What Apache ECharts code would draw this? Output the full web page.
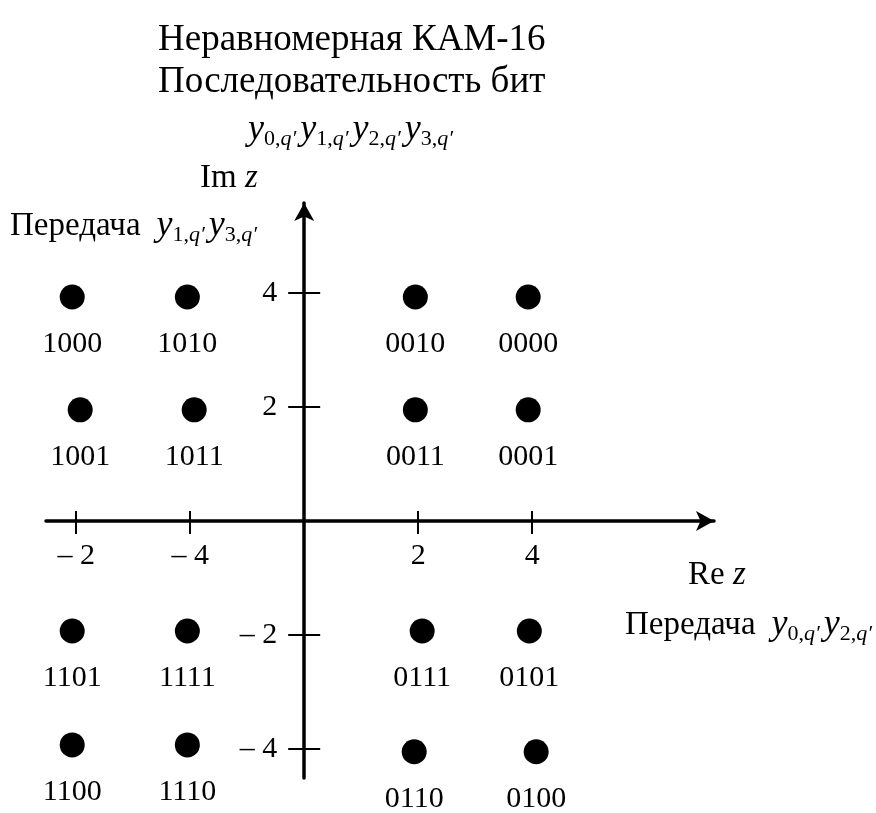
<!DOCTYPE html>
<html>
<head>
<meta charset="utf-8">
<script src="https://cdn.jsdelivr.net/npm/echarts@6/dist/echarts.min.js"></script>
<style>
  html, body { margin: 0; padding: 0; background: #ffffff; }
  #chart { width: 876px; height: 813px; }
</style>
</head>
<body>
<div id="chart"></div>
<script>
// Signal points of the non-uniform 16-QAM constellation
const bitWords = ['1000', '1010', '0010', '0000',
                  '1001', '1011', '0011', '0001',
                  '1101', '1111', '0111', '0101',
                  '1100', '1110', '0110', '0100'];
const reValues = [-4.07, -2.05, 1.95, 3.93,
                  -3.93, -1.93, 1.95, 3.93,
                  -4.07, -2.05, 2.07, 3.95,
                  -4.07, -2.05, 1.93, 4.07];
const imValues = [3.93, 3.93, 3.93, 3.93,
                  1.95, 1.95, 1.95, 1.95,
                  -1.93, -1.93, -1.93, -1.93,
                  -3.93, -3.93, -4.05, -4.05];

// Tick positions and the text written at them
const xTickValues = [-4, -2, 2, 4];
const xTickLabels = ['– 2', '– 4', '2', '4'];
const yTickValues = [-4, -2, 2, 4];
const yTickLabels = ['– 4', '– 2', '2', '4'];

// Visible extent of both axes
const reRange = [-4.53, 7.19];
const imRange = [-4.51, 5.58];

const SERIF = '"Liberation Serif", "Times New Roman", serif';

const points = bitWords.map((w, i) => ({ name: w, value: [reValues[i], imValues[i]] }));
const xTickMarks = xTickValues.map((v, i) => ({ name: xTickLabels[i], value: [v, 0] }));
const yTickMarks = yTickValues.map((v, i) => ({ name: yTickLabels[i], value: [0, v] }));

// rich-text pieces for y_{k,q'}
const subRich = {
  y:   { fontFamily: SERIF, fontSize: 36, fontStyle: 'italic', fill: '#000' },
  s:   { fontFamily: SERIF, fontSize: 22, padding: [18, 0, 0, 0], fill: '#000' },
  q:   { fontFamily: SERIF, fontSize: 22, fontStyle: 'italic', padding: [18, 0, 0, 0], fill: '#000' },
  t:   { fontFamily: SERIF, fontSize: 33, fill: '#000' },
  z:   { fontFamily: SERIF, fontSize: 33, fontStyle: 'italic', fill: '#000' },
  g:   { fontFamily: SERIF, fontSize: 20, width: 4 },
  gap: { fontFamily: SERIF, fontSize: 20, width: 16 }
};
function ySym(k) { return '{y|y}{s|' + k + ',}{q|q′}{g|}'; }

const axisBase = (dim) => ({
  type: 'value',
  min: dim === 'x' ? reRange[0] : imRange[0],
  max: dim === 'x' ? reRange[1] : imRange[1],
  splitLine: { show: false },
  axisLabel: { show: false }
});

const tickStyle = { color: '#000', width: 2 };

const chart = echarts.init(document.getElementById('chart'), null, { renderer: 'canvas' });

chart.setOption({
  backgroundColor: '#ffffff',
  animation: false,
  grid: { left: 46, right: 162, top: 203, bottom: 35, containLabel: false, outerBoundsMode: 'none' },
  xAxis: [
    Object.assign(axisBase('x'), {
      position: 'bottom',
      axisLine: {
        show: true, onZero: true,
        symbol: ['none', 'arrow'], symbolSize: [15, 18],
        lineStyle: { color: '#000', width: 3.5 }
      },
      axisTick: { show: true, inside: false, length: 13, customValues: xTickValues, lineStyle: tickStyle }
    }),
    Object.assign(axisBase('x'), {
      position: 'top',
      axisLine: { show: false, onZero: true },
      axisTick: { show: true, inside: false, length: 10, customValues: xTickValues, lineStyle: tickStyle }
    })
  ],
  yAxis: [
    Object.assign(axisBase('y'), {
      position: 'left',
      axisLine: {
        show: true, onZero: true,
        symbol: ['none', 'arrow'], symbolSize: [15, 18],
        lineStyle: { color: '#000', width: 3.5 }
      },
      axisTick: { show: true, inside: false, length: 16, customValues: yTickValues, lineStyle: tickStyle }
    }),
    Object.assign(axisBase('y'), {
      position: 'right',
      axisLine: { show: false, onZero: true },
      axisTick: { show: true, inside: false, length: 16, customValues: yTickValues, lineStyle: tickStyle }
    })
  ],
  series: [
    {
      // constellation points with their bit words
      type: 'scatter',
      symbol: 'circle',
      symbolSize: 25,
      itemStyle: { color: '#000', opacity: 1 },
      label: {
        show: true, position: 'bottom', distance: 20,
        formatter: '{b}',
        fontFamily: SERIF, fontSize: 30, color: '#000'
      },
      emphasis: { disabled: true },
      data: points
    },
    {
      // numbers under the Re axis ticks
      type: 'scatter',
      symbol: 'circle',
      symbolSize: 2,
      itemStyle: { color: 'rgba(0,0,0,0)', opacity: 1 },
      label: {
        show: true, position: 'bottom', distance: 19,
        formatter: '{b}',
        fontFamily: SERIF, fontSize: 30, color: '#000'
      },
      emphasis: { disabled: true },
      silent: true,
      data: xTickMarks
    },
    {
      // numbers beside the Im axis ticks
      type: 'scatter',
      symbol: 'circle',
      symbolSize: 2,
      itemStyle: { color: 'rgba(0,0,0,0)', opacity: 1 },
      label: {
        show: true, position: 'left', distance: 26,
        formatter: '{b}',
        fontFamily: SERIF, fontSize: 30, color: '#000'
      },
      emphasis: { disabled: true },
      silent: true,
      data: yTickMarks
    }
  ],
  graphic: [
    { type: 'text', x: 158, y: 40,
      style: { text: 'Неравномерная КАМ-16', font: '37px ' + SERIF, fill: '#000', verticalAlign: 'middle' } },
    { type: 'text', x: 158, y: 82,
      style: { text: 'Последовательность бит', font: '37px ' + SERIF, fill: '#000', verticalAlign: 'middle' } },
    { type: 'text', x: 248, y: 130,
      style: { text: ySym(0) + ySym(1) + ySym(2) + ySym(3), rich: subRich, verticalAlign: 'middle' } },
    { type: 'text', x: 200, y: 178,
      style: { text: '{t|Im }{z|z}', rich: subRich, verticalAlign: 'middle' } },
    { type: 'text', x: 10, y: 226,
      style: { text: '{t|Передача}{gap|}' + ySym(1) + ySym(3), rich: subRich, verticalAlign: 'middle' } },
    { type: 'text', x: 688, y: 575,
      style: { text: '{t|Re }{z|z}', rich: subRich, verticalAlign: 'middle' } },
    { type: 'text', x: 625, y: 625,
      style: { text: '{t|Передача}{gap|}' + ySym(0) + ySym(2), rich: subRich, verticalAlign: 'middle' } }
  ]
});
</script>
</body>
</html>
